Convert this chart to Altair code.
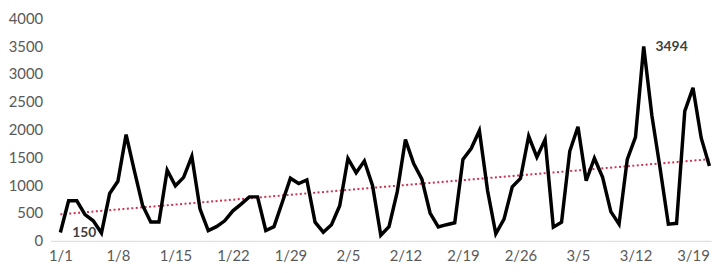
import altair as alt
import pandas as pd

values = [150, 720, 720, 470, 360, 140, 850, 1070, 1910, 1260,
          640, 340, 340, 1270, 990, 1140, 1520, 570, 185, 255,
          360, 540, 660, 790, 790, 185, 255, 690, 1125, 1030,
          1095, 335, 155, 290, 630, 1480, 1225, 1435, 990, 100,
          255, 880, 1820, 1390, 1110, 500, 250, 290, 325, 1465,
          1660, 1980, 900, 125, 390, 970, 1120, 1880, 1505, 1820,
          245, 335, 1610, 2050, 1080, 1485, 1140, 525, 300, 1465,
          1865, 3494, 2250, 1300, 300, 315, 2330, 2750, 1850, 1345]
tick_labels = ["1/1", "1/8", "1/15", "1/22", "1/29", "2/5", "2/12",
               "2/19", "2/26", "3/5", "3/12", "3/19"]
annotated_days = [0, 71]

df = pd.DataFrame({"d": list(range(len(values))), "v": values})
df["label"] = [str(v) if i in annotated_days else "" for i, v in enumerate(values)]

label_arr = "[" + ",".join("'" + t + "'" for t in tick_labels) + "]"
tick_vals = [7 * i for i in range(len(tick_labels))]

x = alt.X("d:Q", scale=alt.Scale(domain=[-1.2, 79.2], nice=False, zero=False),
          axis=alt.Axis(values=tick_vals, labelExpr=label_arr + "[datum.value/7]",
                        title=None, grid=False, ticks=False, domain=True,
                        domainColor="#d9d9d9", labelPadding=8, labelFont="Lato",
                        labelFontSize=15, labelColor="#595959"))
y = alt.Y("v:Q", scale=alt.Scale(domain=[0, 4000], nice=False),
          axis=alt.Axis(values=list(range(0, 4001, 500)), format="d", title=None,
                        grid=False, ticks=False, domain=False, labelPadding=8,
                        labelFont="Lato", labelFontSize=15, labelColor="#595959"))

base = alt.Chart(df)
line = base.mark_line(color="black", strokeWidth=3.5, strokeJoin="miter").encode(x=x, y=y)
trend = base.transform_regression("d", "v").mark_line(
    color="#d0304f", strokeWidth=2, strokeDash=[2, 2.5]).encode(x=x, y=y)
text = base.transform_filter("datum.label != ''").mark_text(
    align="left", baseline="middle", dx=12, dy=1, font="Lato", fontSize=14,
    fontWeight="bold", color="#404040").encode(x=x, y=y, text="label:N")

chart = alt.layer(trend, line, text).properties(
    width=717, height=257,
    autosize=alt.AutoSizeParams(type="fit", contains="padding"),
    padding={"left": 0, "right": 0, "top": 2, "bottom": 0},
).configure_view(stroke=None)

chart.save("out.html", embed_options={"renderer": "svg", "actions": False})
